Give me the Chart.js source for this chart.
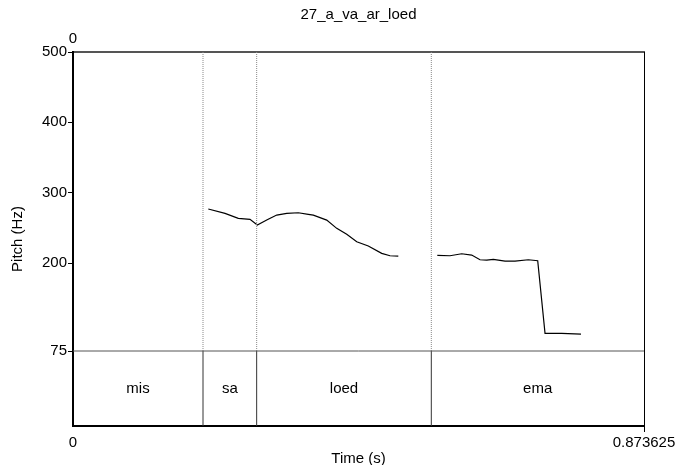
<!DOCTYPE html>
<html lang="en">
<head>
<meta charset="UTF-8" />
<title>27_a_va_ar_loed</title>
<script src="https://cdn.jsdelivr.net/npm/chart.js"></script>
<style>
    body { margin: 0; background: #fff; }
    canvas { display: block; }
</style>
</head>
<body>
<canvas id="pitchChart" width="678" height="465"></canvas>
<script>
    // time range of the sound (s)
    const tStart = 0;
    const tEnd = 0.873625;

    // pitch axis
    const yTicks = [75, 200, 300, 400, 500];
    const pitchFloor = 75;
    const pitchTop = 500;
    const tierBottom = -31.6;   // room below the pitch floor for the text tier

    // text tier
    const boundaries = [0.1989, 0.2810, 0.5482];
    const tierLabels = ["mis", "sa", "loed", "ema"];

    // pitch contour, two voiced stretches
    const times1 = [0.2070, 0.2326, 0.2529, 0.2708, 0.2820, 0.2964, 0.3117, 0.3270, 0.3447, 0.3600,
                    0.3677, 0.3882, 0.4035, 0.4188, 0.4341, 0.4518, 0.4723, 0.4850, 0.4977];
    const pitch1 = [276.8, 270.7, 263.6, 262.1, 254.0, 261.1, 268.2, 270.7, 271.5, 269.2,
                    268.2, 261.1, 249.3, 240.8, 230.3, 224.2, 213.8, 210.4, 210.0];
    const times2 = [0.5574, 0.5768, 0.5947, 0.6100, 0.6227, 0.6330, 0.6431, 0.6610, 0.6763, 0.6966,
                    0.7110, 0.7222, 0.7477, 0.7772];
    const pitch2 = [210.9, 210.4, 213.2, 211.4, 204.7, 204.3, 205.3, 202.8, 202.8, 204.7,
                    203.3, 100.0, 100.0, 99.0];

    const FONT = "Liberation Sans, Arial, sans-serif";

    const toPoints = (xs, ys) => xs.map((x, i) => ({ x: x, y: ys[i] }));

    const datasets = [];
    // floor line of the pitch area
    datasets.push({ data: [{ x: tStart, y: pitchFloor }, { x: tEnd, y: pitchFloor }],
        borderColor: "#555", borderWidth: 1 });
    // interval boundaries: dotted in the pitch area, solid in the tier
    boundaries.forEach(b => {
        datasets.push({ data: [{ x: b, y: pitchFloor }, { x: b, y: pitchTop }],
            borderColor: "#888", borderWidth: 1, borderDash: [1, 1] });
        datasets.push({ data: [{ x: b, y: tierBottom }, { x: b, y: pitchFloor }],
            borderColor: "#333", borderWidth: 1 });
    });
    datasets.push({ data: toPoints(times1, pitch1), borderColor: "#000", borderWidth: 1.2 });
    datasets.push({ data: toPoints(times2, pitch2), borderColor: "#000", borderWidth: 1.2 });

    const extras = {
        id: "extras",
        afterDatasetsDraw(chart) {
            const ctx = chart.ctx;
            const x = chart.scales.x, y = chart.scales.y;
            ctx.save();
            ctx.fillStyle = "#000";
            ctx.font = "15px " + FONT;
            ctx.textAlign = "center";
            ctx.textBaseline = "middle";
            const edges = [tStart, ...boundaries, tEnd];
            const ty = y.getPixelForValue((pitchFloor + tierBottom) / 2);
            tierLabels.forEach((lab, i) => {
                ctx.fillText(lab, x.getPixelForValue((edges[i] + edges[i + 1]) / 2), ty);
            });
            // title
            ctx.fillText("27_a_va_ar_loed", (chart.chartArea.left + chart.chartArea.right) / 2, 15);
            ctx.restore();
        }
    };

    new Chart(document.getElementById("pitchChart"), {
        type: "scatter",
        data: { datasets: datasets },
        options: {
            responsive: false,
            animation: false,
            showLine: true,
            elements: { point: { radius: 0 }, line: { tension: 0 } },
            layout: { padding: 0 },
            plugins: { legend: { display: false }, tooltip: { enabled: false }, title: { display: false } },
            scales: {
                x: {
                    type: "linear", position: "bottom", min: tStart, max: tEnd,
                    afterBuildTicks: s => { s.ticks = [{ value: tStart }, { value: tEnd }]; },
                    afterFit: s => { s.height = 39; },
                    ticks: { color: "#000", font: { size: 15, family: FONT }, padding: 2, maxRotation: 0,
                             callback: v => String(v) },
                    grid: { drawOnChartArea: false, tickLength: 6,
                            tickColor: c => c.tick && c.tick.value === tStart ? "rgba(0,0,0,0)" : "#000" },
                    border: { color: "#000", width: 2 },
                    title: { display: true, text: "Time (s)", color: "#000", font: { size: 15, family: FONT },
                             padding: { top: 0, bottom: -3 } }
                },
                x2: {
                    type: "linear", position: "top", min: tStart, max: tEnd,
                    afterBuildTicks: s => { s.ticks = [{ value: tStart }]; },
                    afterFit: s => { s.height = 52; },
                    ticks: { color: "#000", font: { size: 15, family: FONT }, padding: 4, maxRotation: 0,
                             callback: v => String(v) },
                    grid: { drawOnChartArea: false, drawTicks: false },
                    border: { color: "#555", width: 2 }
                },
                y: {
                    type: "linear", position: "left", min: tierBottom, max: pitchTop,
                    afterBuildTicks: s => { s.ticks = yTicks.map(v => ({ value: v })); },
                    afterFit: s => { s.width = 73; },
                    ticks: { color: "#000", font: { size: 15, family: FONT }, padding: 1 },
                    grid: { drawOnChartArea: false, tickLength: 5, tickColor: "#000" },
                    border: { color: "#000", width: 2 },
                    title: { display: true, text: "Pitch (Hz)", color: "#000", font: { size: 15, family: FONT },
                             padding: { top: 9, bottom: 0 } }
                },
                y2: {
                    type: "linear", position: "right", min: tierBottom, max: pitchTop,
                    afterFit: s => { s.width = 34; },
                    ticks: { display: false },
                    grid: { drawOnChartArea: false, drawTicks: false },
                    border: { color: "#000", width: 1 }
                }
            }
        },
        plugins: [extras]
    });
</script>
</body>
</html>
